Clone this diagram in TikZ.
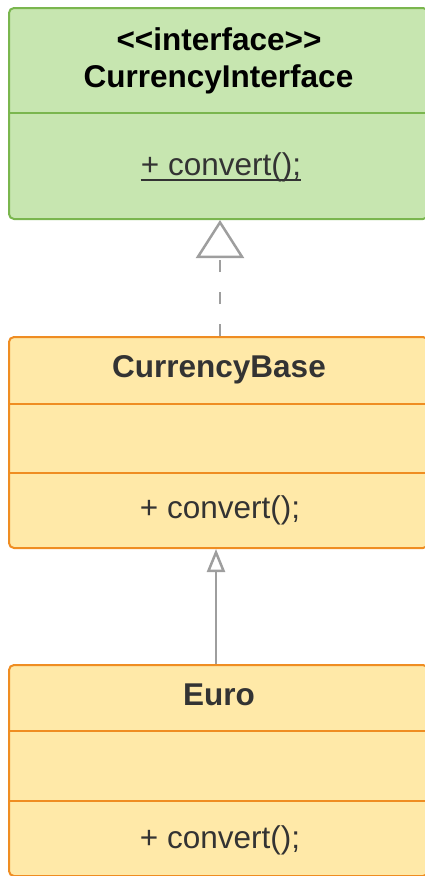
\documentclass[tikz,border=0pt]{standalone}
\usepackage{fontspec}
\setmainfont{Liberation Sans}
\usetikzlibrary{arrows.meta}

\definecolor{ifill}{RGB}{199,230,176}
\definecolor{idraw}{RGB}{122,182,78}
\definecolor{cfill}{RGB}{255,233,168}
\definecolor{cdraw}{RGB}{239,141,34}
\definecolor{txt}{RGB}{51,51,51}
\definecolor{link}{RGB}{158,158,158}

\tikzset{
	classbox/.style={draw, rounded corners=5pt, line width=2pt, minimum width=419pt, minimum height=211pt, inner sep=0pt},
	ibox/.style={classbox, fill=ifill, draw=idraw},
	cbox/.style={classbox, fill=cfill, draw=cdraw},
	label/.style={anchor=base, inner sep=0pt, text=txt, font=\fontsize{31.5}{36}\selectfont},
	title/.style={label, font=\fontsize{31.5}{36}\selectfont\bfseries},
	realize/.style={draw=link, line width=2.5pt, dash pattern=on 12pt off 20pt, -{Triangle[open, length=38pt, width=48pt, line width=2.5pt, sep=0pt]}},
	extend/.style={draw=link, line width=2.5pt, -{Triangle[open, length=23pt, width=18pt, line width=2.5pt]}}
}

\begin{document}
\begin{tikzpicture}[x=1pt, y=-1pt]
		\useasboundingbox (0,0) rectangle (425,876);
		\node[ibox] (iface) at (218.5,113.5) {};
		\draw[idraw, line width=2pt] (9,113) -- (428,113);
		\node[title, text=black] (ster) at (219,50) {{<}{<}interface{>}{>}};
		\node[title, text=black] (iname) at (218.5,87) {CurrencyInterface};
		\node[label] (iconv) at (221,175) {+ convert();};
		\draw[txt, line width=1.2pt] ([yshift=-5pt]iconv.base west) -- ([yshift=-5pt]iconv.base east);
		
		\node[cbox] (base) at (218.5,442.5) {};
		\draw[cdraw, line width=2pt] (9,404) -- (428,404);
		\draw[cdraw, line width=2pt] (9,473) -- (428,473);
		\node[title] (bname) at (219,377) {CurrencyBase};
		\node[label] (bconv) at (220,518) {+ convert();};
		
		\node[cbox] (euro) at (218.5,770.5) {};
		\draw[cdraw, line width=2pt] (9,731) -- (428,731);
		\draw[cdraw, line width=2pt] (9,801) -- (428,801);
		\node[title] (ename) at (219,705) {Euro};
		\node[label] (econv) at (220,848) {+ convert();};
		
		\draw[realize] ([xshift=1.5pt]base.north) -- ([xshift=1.5pt]iface.south);
		\draw[extend] ([xshift=-2.5pt]euro.north) -- ([xshift=-2.5pt]base.south);
	\end{tikzpicture}
\end{document}
